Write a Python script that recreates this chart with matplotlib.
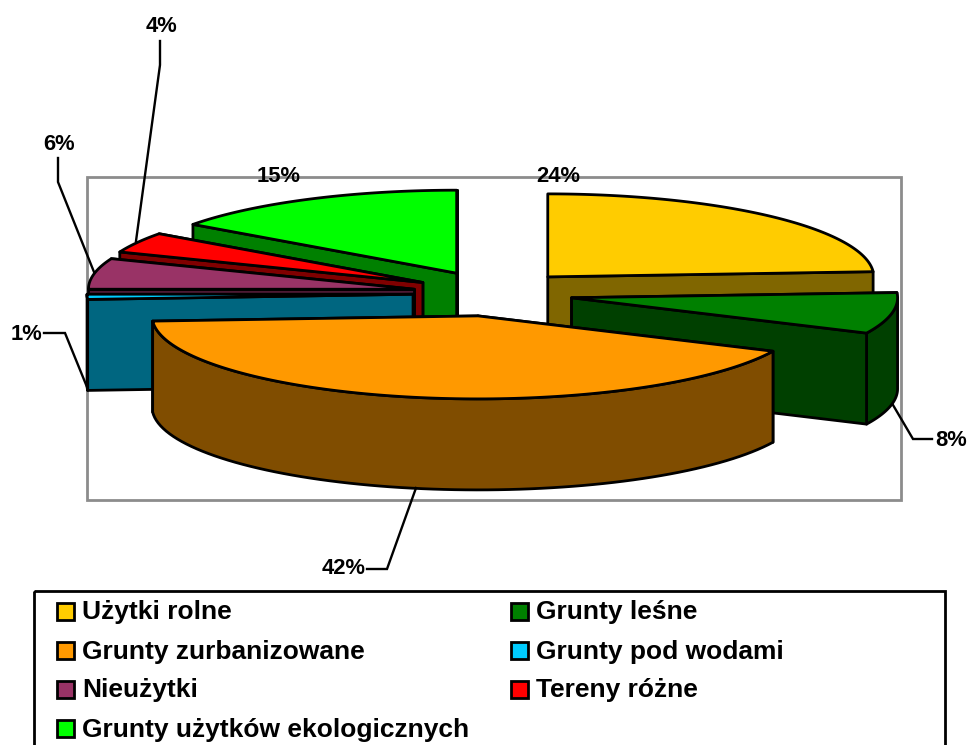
import numpy as np
import matplotlib
matplotlib.use("Agg")
import matplotlib.pyplot as plt
from matplotlib.patches import Polygon, Rectangle

plt.rcParams['font.family'] = ['Liberation Sans', 'DejaVu Sans']

labels = ['Użytki rolne', 'Grunty leśne', 'Grunty zurbanizowane', 'Grunty pod wodami',
          'Nieużytki', 'Tereny różne', 'Grunty użytków ekologicznych']
values = [24, 8, 42, 1, 6, 4, 15]
colors = ['#FFCC00', '#008000', '#FF9900', '#00CCFF', '#993366', '#FF0000', '#00FF00']
side_colors = ['#806600', '#004000', '#804D00', '#006680', '#4D1A33', '#800000', '#008000']

# pie geometry in image pixels
cx0, cy0 = 493, 293.5
rx, ry = 326, 83
depth = 91
explode = 80
squash = 0.285
lw = 2.0

fig = plt.figure(figsize=(9.68, 7.45), dpi=100)
ax = fig.add_axes([0, 0, 1, 1])
ax.set_xlim(0, 968)
ax.set_ylim(745, 0)
ax.axis('off')

# plot area frame
ax.add_patch(Rectangle((86.5, 177), 814, 323, fill=False, ec='#8C8C8C', lw=2.0, zorder=1))

edges = np.cumsum([0] + values) * 3.6
z = 2


def poly(pts, color):
    global z
    ax.add_patch(Polygon(pts, closed=True, fc=color, ec='black', lw=lw, joinstyle='round', zorder=z))
    z += 1


def slice_3d(i):
    t1, t2 = edges[i], edges[i + 1]
    mid = np.radians((t1 + t2) / 2)
    cx = cx0 + explode * np.sin(mid)
    cy = cy0 - explode * squash * np.cos(mid)

    def rim(t):
        t = np.radians(t)
        return np.column_stack([cx + rx * np.sin(t), cy - ry * np.cos(t)])

    def cut(t):
        p = rim(np.array([t]))[0]
        return [(cx, cy), tuple(p), (p[0], p[1] + depth), (cx, cy + depth)]

    start_front = np.sin(np.radians(t1)) < 0
    end_front = np.sin(np.radians(t2)) > 1e-6
    if not start_front:
        poly(cut(t1), side_colors[i])
    if not end_front:
        poly(cut(t2), side_colors[i])

    # outer wall, only the part that faces the viewer
    a, b = max(t1, 90), min(t2, 270)
    if b > a:
        arc = rim(np.linspace(a, b, 80))
        poly(np.vstack([arc, arc[::-1] + [0, depth]]), side_colors[i])

    if start_front:
        poly(cut(t1), side_colors[i])
    if end_front:
        poly(cut(t2), side_colors[i])

    top = np.vstack([[(cx, cy)], rim(np.linspace(t1, t2, 120))])
    poly(top, colors[i])


for i in [6, 5, 4, 3, 0, 1, 2]:
    slice_3d(i)

# percent labels with leader lines
lab_style = dict(fontsize=15.8, fontweight='bold', ha='center', va='center', color='black', zorder=50)
lead = dict(color='black', lw=1.7, zorder=z, solid_joinstyle='miter')
ax.text(558, 177, f'{values[0]}%', **lab_style)
ax.text(279, 177, f'{values[6]}%', **lab_style)
ax.text(951, 440, f'{values[1]}%', **lab_style)
ax.text(344, 569, f'{values[2]}%', **lab_style)
ax.text(26, 335, f'{values[3]}%', **lab_style)
ax.text(59, 144, f'{values[4]}%', **lab_style)
ax.text(161, 26, f'{values[5]}%', **lab_style)
ax.plot([893, 913, 932], [405, 439, 439], **lead)
ax.plot([416, 387, 367], [488, 569, 569], **lead)
ax.plot([87, 65, 44], [387, 333, 333], **lead)
ax.plot([94, 58, 58], [272, 182, 158], **lead)
ax.plot([136, 160, 160], [241, 65, 41], **lead)

# legend box, runs off the bottom of the image
ax.add_patch(Rectangle((34, 591), 911, 170, fill=False, ec='black', lw=2, zorder=60))
row_y = [611, 650, 689, 728]
col_x = [57, 511]
for i, lab in enumerate(labels):
    x = col_x[i % 2]
    y = row_y[i // 2]
    ax.add_patch(Rectangle((x, y - 8.5), 17, 17, fc=colors[i], ec='black', lw=2, zorder=60))
    ax.text(x + 25, y + 1.5, lab, fontsize=19, fontweight='bold', ha='left', va='center', zorder=60)

fig.savefig('out.png', dpi=100)
